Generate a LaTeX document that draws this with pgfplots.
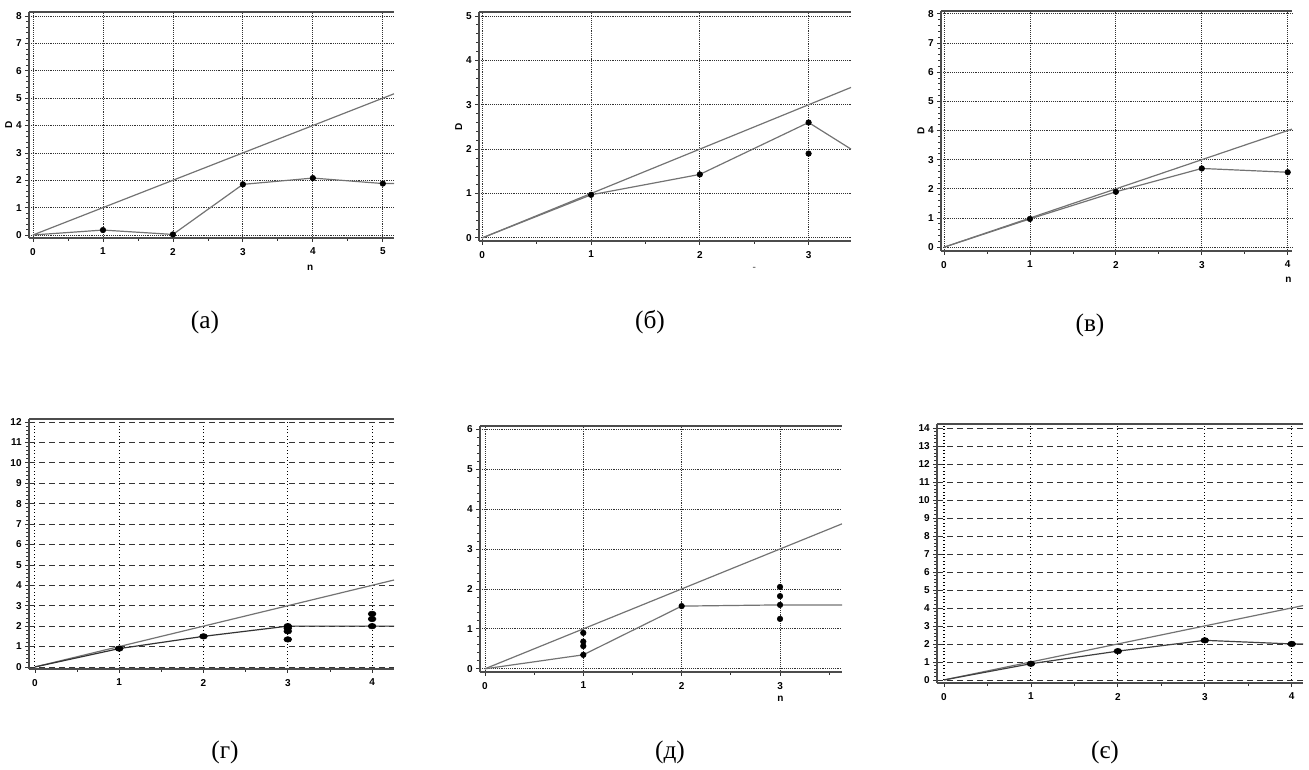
\documentclass[border=0pt]{standalone}
\usepackage{pgfplots}
\pgfplotsset{compat=1.18}
\usepackage{fontspec}
\setmainfont{Liberation Serif}
\newfontfamily\tickfamily{Liberation Sans}
\newcommand\tickfont{\tickfamily\bfseries\fontsize{7.5}{8}\selectfont}

\pgfplotsset{
  panel/.style={
    scale only axis,
    anchor=south west,
    clip=false,
    axis lines*=left,
    axis line style={-, line width=1.2pt, black!70},
    tick style={black!80, line width=0.6pt},
    tick align=outside,
    major tick length=3pt,
    minor tick length=2pt,
    minor y tick num=4,
    minor x tick num=1,
    xtick distance=1, ytick distance=1,
    xmajorgrids, ymajorgrids,
    grid style={densely dotted, black!80, line width=0.6pt},
    ticklabel style={font=\tickfont},
    /pgf/number format/assume math mode=true,
    xticklabel style={yshift=-1pt},
    yticklabel style={xshift=1pt},
    ylabel style={font=\tickfont, yshift=-4pt},
  },
  dashgrid/.style={y grid style={dash pattern=on 4.5pt off 3pt, black!80, line width=0.6pt},
    x grid style={dotted, black, line width=0.8pt}},
  ref/.style={black!55, line width=0.9pt, no marks},
  curve/.style={black!55, line width=0.9pt, no marks},
  dots/.style={only marks, mark=*, mark size=2.1pt, black},
}
\tikzset{topline/.style={black!70, line width=1.2pt},
  caption/.style={font=\fontsize{19}{21}\selectfont}}

\begin{document}
\begin{tikzpicture}[x=0.75pt, y=0.75pt]
\path[use as bounding box] (0,0) rectangle (1309,770);

% (а)
\begin{axis}[panel, at={(21.75pt,399pt)},
    width=273.75pt, height=169.5pt,
    xmin=-0.057, xmax=5.16, ymin=-0.11, ymax=8.15,
    ylabel={D}]
  \addplot[ref] coordinates {(0,0) (5.16,5.16)};
  \addplot[curve] coordinates {(0,0) (1,0.18) (2,0.02) (3,1.85) (4,2.08) (5,1.88) (5.16,1.88)};
  \addplot[dots] coordinates {(1,0.18) (2,0.02) (3,1.85) (4,2.08) (5,1.88)};
  \draw[topline] (rel axis cs:0,1) -- (rel axis cs:1,1);
  \node[font=\tickfont] at (rel axis cs:0.77,-0.13) {n};
\end{axis}

% (б)
\begin{axis}[panel, at={(359.25pt,396.75pt)},
    width=279pt, height=171.75pt,
    xmin=-0.03, xmax=3.39, ymin=-0.07, ymax=5.09,
    ylabel={D}]
  \addplot[ref] coordinates {(0,0) (3.39,3.39)};
  \addplot[curve] coordinates {(0,0) (1,0.97) (2,1.43) (3,2.6) (3.39,2.0)};
  \addplot[dots] coordinates {(1,0.97) (2,1.43) (3,2.6) (3,1.9)};
  \draw[topline] (rel axis cs:0,1) -- (rel axis cs:1,1);
  \node[font=\tickfont, black!50] at (rel axis cs:0.74,-0.12) {-};
\end{axis}

% (в)
\begin{axis}[panel, at={(705.75pt,389.25pt)},
    width=263.25pt, height=180pt,
    xmin=-0.035, xmax=4.05, ymin=-0.13, ymax=8.1,
    ylabel={D}]
  \addplot[ref] coordinates {(0,0) (4.05,4.05)};
  \addplot[curve] coordinates {(0,0) (1,0.97) (2,1.9) (3,2.7) (4,2.57)};
  \addplot[dots] coordinates {(1,0.97) (2,1.9) (3,2.7) (4,2.57)};
  \draw[topline] (rel axis cs:0,1) -- (rel axis cs:1,1);
  \node[font=\tickfont] at (rel axis cs:0.99,-0.12) {n};
\end{axis}

% (г)
\begin{axis}[panel, dashgrid, at={(21.75pt,75.75pt)},
    width=273.75pt, height=187.5pt,
    xmin=-0.07, xmax=4.26, ymin=-0.1, ymax=12.15]
  \addplot[ref] coordinates {(0,0) (4.26,4.26)};
  \addplot[curve, black!80] coordinates {(0,0) (1,0.9) (2,1.5) (3,2.0) (4,2.0) (4.26,2.0)};
  \addplot[dots, mark options={xscale=1.4}] coordinates {(1,0.9) (2,1.5) (3,1.35) (3,1.75) (3,1.9) (3,2.0) (4,2.0) (4,2.35) (4,2.6)};
  \draw[topline] (rel axis cs:0,1) -- (rel axis cs:1,1);
\end{axis}

% (д)
\begin{axis}[panel, at={(360pt,73.5pt)},
    width=271.5pt, height=184.5pt,
    xmin=-0.05, xmax=3.63, ymin=-0.08, ymax=6.08]
  \addplot[ref] coordinates {(0,0) (3.63,3.63)};
  \addplot[curve] coordinates {(0,0) (1,0.35) (2,1.57) (3,1.6) (3.63,1.6)};
  \addplot[dots] coordinates {(1,0.35) (1,0.57) (1,0.68) (1,0.9) (2,1.57) (3,1.25) (3,1.6) (3,1.82) (3,2.05)};
  \draw[topline] (rel axis cs:0,1) -- (rel axis cs:1,1);
  \node[font=\tickfont] at (rel axis cs:0.83,-0.11) {n};
\end{axis}

% (є)
\begin{axis}[panel, dashgrid, at={(702.75pt,65.25pt)},
    width=274.5pt, height=194.25pt,
    xmin=-0.08, xmax=4.13, ymin=-0.17, ymax=14.22]
  \addplot[ref] coordinates {(0,0) (4.13,4.13)};
  \addplot[curve, black!75] coordinates {(0,0) (1,0.9) (2,1.6) (3,2.2) (4,2.0) (4.13,2.0)};
  \addplot[dots, mark options={xscale=1.4}] coordinates {(1,0.9) (2,1.6) (3,2.2) (4,2.0)};
  \draw[topline] (rel axis cs:0,1) -- (rel axis cs:1,1);
\end{axis}

\node[caption] at (205,448) {(а)};
\node[caption] at (650,448) {(б)};
\node[caption] at (1090,445) {(в)};
\node[caption] at (225,18) {(г)};
\node[caption] at (670,18) {(д)};
\node[caption] at (1105,18) {(є)};
\end{tikzpicture}
\end{document}
